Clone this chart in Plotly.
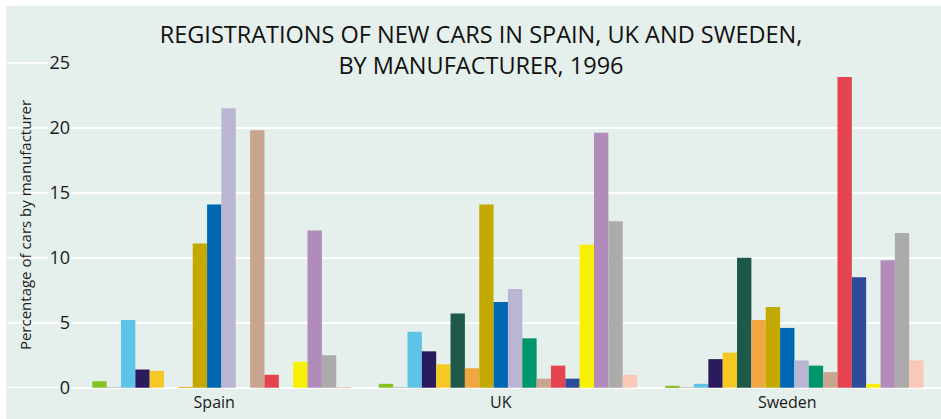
import plotly.graph_objects as go

# Countries on the x axis
countries = ["Spain", "UK", "Sweden"]

# Share of new-car registrations (%) for each of 18 manufacturers, per country
spain = [0.5, 0.03, 5.2, 1.4, 1.3, 0.0, 0.03, 11.1, 14.1, 21.5, 0.0, 19.8, 1.0, 0.0, 2.0, 12.1, 2.5, 0.03]
uk = [0.3, 0.03, 4.3, 2.8, 1.8, 5.7, 1.5, 14.1, 6.6, 7.6, 3.8, 0.7, 1.7, 0.7, 11.0, 19.6, 12.8, 1.0]
sweden = [0.15, 0.03, 0.3, 2.2, 2.7, 10.0, 5.2, 6.2, 4.6, 2.1, 1.7, 1.2, 23.9, 8.5, 0.3, 9.8, 11.9, 2.1]

manufacturers = [f"Manufacturer {i + 1}" for i in range(18)]

colors = [
    "#84c225", "#c8c8c8", "#5ec3e8", "#2a1a5e", "#f5c823", "#1e5848",
    "#f0a742", "#c4aa00", "#0068b3", "#bbb5d4", "#00966b", "#c9a58f",
    "#e5434d", "#2e4a9a", "#f8f000", "#b18bba", "#ababab", "#f9c8b7",
]

y_ticks = [0, 5, 10, 15, 20, 25]

BG = "#e5efeb"
W, H = 941, 419
ML, MR, MT, MB = 71, 0, 62.35, 30.74
Y_RANGE = [-0.02, 25.05]
X_RANGE = [-0.5, 2.5366]

PW = W - ML - MR
PH = H - MT - MB


def px_x(px):
    return (px - ML) / PW


def px_y(py):
    return (H - MB - py) / PH


# 19 slots per country group; the first slot is left empty
n_slots = len(manufacturers) + 1
bar_w = (1 - 0.0485) / n_slots

fig = go.Figure()
for i, name in enumerate(manufacturers):
    vals = [spain[i], uk[i], sweden[i]]
    fig.add_trace(go.Bar(
        x=countries,
        y=vals,
        name=name,
        marker=dict(color=colors[i], line=dict(width=0)),
        width=bar_w,
        offset=-n_slots * bar_w / 2 + (i + 1) * bar_w,
        showlegend=False,
    ))

shapes = [
    # white strips along the top and left edges
    dict(type="rect", xref="paper", yref="paper",
         x0=px_x(0), x1=px_x(W), y0=px_y(6), y1=px_y(0),
         fillcolor="white", line=dict(width=0), layer="below"),
    dict(type="rect", xref="paper", yref="paper",
         x0=px_x(0), x1=px_x(6), y0=px_y(H), y1=px_y(0),
         fillcolor="white", line=dict(width=0), layer="below"),
]

# gridlines continue to the left of the tick labels
for t in y_ticks:
    end_px = 48 if t >= 10 else 59
    shapes.append(dict(
        type="line", xref="paper", yref="y",
        x0=px_x(7), x1=px_x(end_px), y0=t, y1=t,
        line=dict(color="white", width=2), layer="below",
    ))

fig.update_layout(
    width=W,
    height=H,
    margin=dict(l=ML, r=MR, t=MT, b=MB, pad=0),
    paper_bgcolor=BG,
    plot_bgcolor=BG,
    barmode="group",
    font=dict(family="Open Sans", color="#1a1a1a"),
    title=dict(
        text="REGISTRATIONS OF NEW CARS IN SPAIN, UK AND SWEDEN,<br>BY MANUFACTURER, 1996",
        x=481 / W,
        xanchor="center",
        xref="container",
        y=1 - 43 / H,
        yanchor="top",
        yref="container",
        font=dict(size=23.5, color="#111111"),
    ),
    xaxis=dict(
        range=X_RANGE,
        showgrid=False,
        zeroline=False,
        showline=False,
        ticks="",
        ticklabelstandoff=3,
        tickfont=dict(size=16, color="#1a1a1a"),
    ),
    yaxis=dict(
        range=Y_RANGE,
        tickvals=y_ticks,
        showgrid=True,
        gridcolor="white",
        gridwidth=2,
        zeroline=True,
        zerolinecolor="white",
        zerolinewidth=2,
        showline=False,
        ticks="",
        tickfont=dict(size=18, color="#1a1a1a"),
        title=dict(text="Percentage of cars by manufacturer",
                   font=dict(size=15, color="#1a1a1a"), standoff=14),
    ),
    shapes=shapes,
)

fig.write_html("out.html")
